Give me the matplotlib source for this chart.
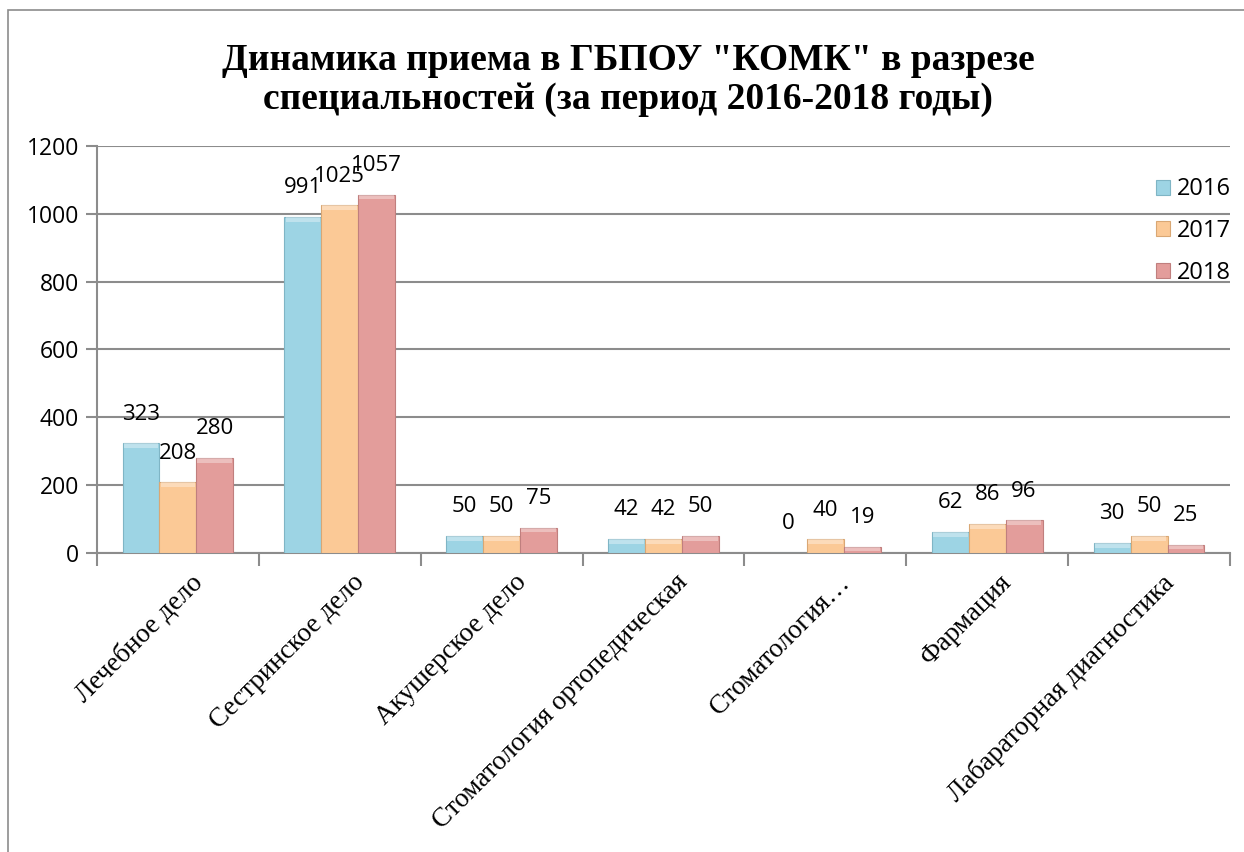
import matplotlib
matplotlib.use("Agg")
import matplotlib.pyplot as plt
import matplotlib.transforms as mtransforms
import numpy as np
from matplotlib.patches import Rectangle

categories = ["Лечебное дело", "Сестринское дело", "Акушерское дело",
              "Стоматология ортопедическая", "Стоматология…", "Фармация",
              "Лабараторная диагностика"]
series_names = ["2016", "2017", "2018"]
v2016 = [323, 991, 50, 42, 0, 62, 30]
v2017 = [208, 1025, 50, 42, 40, 86, 50]
v2018 = [280, 1057, 75, 50, 19, 96, 25]
yticks = [0, 200, 400, 600, 800, 1000, 1200]
title = 'Динамика приема в ГБПОУ "КОМК" в разрезе\nспециальностей (за период 2016-2018 годы)'

colors = ["#9dd4e4", "#fbc996", "#e39d9b"]
edges = ["#7fb5c5", "#d9a774", "#c07f7e"]

fig = plt.figure(figsize=(12.44, 8.52), dpi=100)
fig.patch.set_facecolor("white")
fig.add_artist(Rectangle((8/1244, -0.1), 1.2, 1 - 10/852 + 0.1, transform=fig.transFigure,
                         fill=False, edgecolor="#8c8c8c", linewidth=1.2))

ax = fig.add_axes([97/1244, 1 - 553/852, (1230 - 97)/1244, (553 - 146)/852])
x = np.arange(len(categories))
w = 0.228
for i, (vals, c, e) in enumerate(zip([v2016, v2017, v2018], colors, edges)):
    pos = x + (i - 1) * w
    ax.bar(pos, vals, width=w, color=c, edgecolor=e, linewidth=0.8, label=series_names[i], zorder=3)
    for p, v in zip(pos, vals):
        if v > 0:
            cap = min(v, 14)
            ax.bar(p, cap, bottom=v - cap, width=w * 0.94, color="white", alpha=0.35,
                   linewidth=0, zorder=4)
        ax.annotate(str(v), (p, v), xytext=(0, 21), textcoords="offset points",
                    ha="center", va="center", fontsize=16, family="Open Sans", zorder=5)

ax.set_xlim(-0.5, len(categories) - 0.5)
ax.set_ylim(0, 1200)
ax.set_yticks(yticks)
ax.set_yticklabels([str(t) for t in yticks], fontsize=16.5, family="Open Sans")
ax.yaxis.grid(True, color="#8c8c8c", linewidth=1.5, zorder=0)
ax.set_axisbelow(True)
for s in ["top", "right"]:
    ax.spines[s].set_visible(False)
ax.spines["left"].set_color("#8c8c8c")
ax.spines["bottom"].set_color("#8c8c8c")
ax.spines["left"].set_linewidth(1.5)
ax.spines["bottom"].set_linewidth(1.5)
ax.tick_params(axis="y", length=8, color="#8c8c8c", width=1.5, pad=5)

ax.set_xticks(np.arange(len(categories) + 1) - 0.5, minor=False)
ax.set_xticklabels([])
ax.tick_params(axis="x", length=9, color="#8c8c8c", width=1.5)
ax.set_xticks(x, minor=True)
ax.set_xticklabels(categories, minor=True, rotation=45, ha="right", rotation_mode="anchor",
                   fontsize=19.5, family="Liberation Serif")
ax.tick_params(axis="x", which="minor", length=0, pad=12)
shift = mtransforms.ScaledTranslation(12/100, 0, fig.dpi_scale_trans)
for lbl in ax.get_xticklabels(minor=True):
    lbl.set_transform(lbl.get_transform() + shift)

leg = ax.legend(loc="upper right", bbox_to_anchor=(1.02, 0.975), frameon=False,
                prop={"family": "Open Sans", "size": 17}, handlelength=0.6, handleheight=0.6,
                labelspacing=0.75, handletextpad=0.3)

fig.text(0.505, 0.906, title, ha="center", va="center", fontsize=27, fontweight="bold",
         family="Liberation Serif", linespacing=1.12)

fig.savefig("out.png", dpi=100)
